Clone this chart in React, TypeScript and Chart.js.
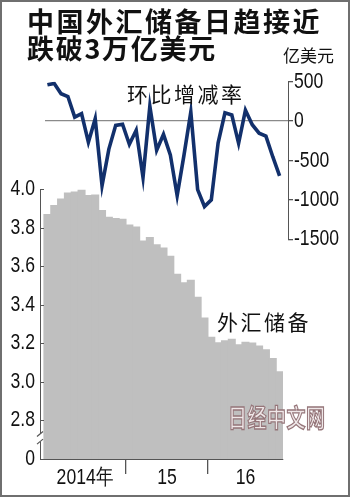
import React, { useEffect, useRef } from "react";
import { Chart, registerables } from "chart.js";
Chart.register(...registerables);

// ---- data ----
const months: string[] = [
  "2014-01", "2014-02", "2014-03", "2014-04", "2014-05", "2014-06", "2014-07", "2014-08", "2014-09", "2014-10", "2014-11", "2014-12",
  "2015-01", "2015-02", "2015-03", "2015-04", "2015-05", "2015-06", "2015-07", "2015-08", "2015-09", "2015-10", "2015-11", "2015-12",
  "2016-01", "2016-02", "2016-03", "2016-04", "2016-05", "2016-06", "2016-07", "2016-08", "2016-09", "2016-10", "2016-11",
];
// 外汇储备 (万亿美元)
const reserves: number[] = [
  3.867, 3.914, 3.948, 3.979, 3.984, 3.993, 3.966, 3.969, 3.888, 3.853, 3.847, 3.843,
  3.813, 3.802, 3.730, 3.748, 3.711, 3.694, 3.651, 3.557, 3.514, 3.526, 3.438, 3.330,
  3.231, 3.202, 3.213, 3.220, 3.192, 3.205, 3.201, 3.185, 3.166, 3.121, 3.052,
];
// 环比增减 (亿美元)
const momChange: number[] = [
  460, 478, 348, 312, 50, 95, -268, 30, -818, -355, -54, -40,
  -294, -116, -715, 188, -370, -168, -428, -946, -432, 116, -870, -1084,
  -1000, -275, 106, 78, -282, 138, -46, -154, -190, -452, -695,
];
const yearLabels: string[] = ["2014年", "15", "16"];
const leftTickValues: number[] = [2.6, 2.8, 3.0, 3.2, 3.4, 3.6, 3.8, 4.0];
const leftTickLabels: string[] = ["0", "2.8", "3.0", "3.2", "3.4", "3.6", "3.8", "4.0"];
const rightTickValues: number[] = [-1500, -1000, -500, 0, 500];

const NUM_FONT = "'Liberation Sans', Arial, sans-serif";
const CJK_FONT = "'Noto Sans CJK SC', 'Noto Sans CJK JP', sans-serif";
const NARROW = 0.8;

const W = 350;
const H = 497;

// condensed text: squeeze tick labels horizontally around their anchor
const narrowText = {
  id: "narrowText",
  beforeDraw(chart: any) {
    const ctx = chart.ctx;
    if (ctx.__origFillText) return;
    const orig = ctx.fillText;
    ctx.__origFillText = orig;
    ctx.fillText = function (text: string, x: number, y: number, mw?: number) {
      this.save();
      this.translate(x, y);
      this.scale(NARROW, 1);
      if (mw === undefined) orig.call(this, text, 0, 0);
      else orig.call(this, text, 0, 0, mw / NARROW);
      this.restore();
    };
  },
  afterDraw(chart: any) {
    const ctx = chart.ctx;
    if (ctx.__origFillText) {
      ctx.fillText = ctx.__origFillText;
      delete ctx.__origFillText;
    }
  },
};

export default function App() {
  const barRef = useRef<HTMLCanvasElement | null>(null);
  const lineRef = useRef<HTMLCanvasElement | null>(null);

  useEffect(() => {
    document.body.style.margin = "0";
    const n = months.length;
    const yearStarts: number[] = [];
    months.forEach((m, i) => {
      if (i === 0 || m.slice(0, 4) !== months[i - 1].slice(0, 4)) yearStarts.push(i);
    });
    const labelMap = new Map<number, string>();
    const xTicks: number[] = [];
    const boundarySet = new Set<number>();
    yearStarts.forEach((s, k) => {
      const e = k + 1 < yearStarts.length ? yearStarts[k + 1] - 1 : n - 1;
      const c = (s + e) / 2;
      labelMap.set(c, yearLabels[k] ?? "");
      xTicks.push(c);
      if (k > 0) {
        boundarySet.add(s - 0.5);
        xTicks.push(s - 0.5);
      }
    });
    xTicks.sort((a, b) => a - b);

    const barLeft = 40, barRight = 283;
    const unit = (barRight - 4 - barLeft) / n;
    const xMaxBar = n - 0.5;
    const xMinBar = xMaxBar - (barRight - barLeft) / unit;
    const lineLeft = 45, lineRight = 288;
    const xMinLine = xMinBar + (lineLeft - barLeft) / unit;
    const xMaxLine = xMinLine + (lineRight - lineLeft) / unit;

    const axisDecor = {
      id: "axisDecor",
      afterDraw(chart: any) {
        const { ctx, chartArea, scales } = chart;
        const y = scales.y;
        ctx.save();
        ctx.strokeStyle = "#555";
        ctx.lineWidth = 1;
        leftTickValues.forEach((v) => {
          const py = Math.round(y.getPixelForValue(v)) + 0.5;
          ctx.beginPath();
          ctx.moveTo(chartArea.left, py);
          ctx.lineTo(chartArea.left + 4, py);
          ctx.stroke();
        });
        const p1 = y.getPixelForValue(2.73);
        const p2 = y.getPixelForValue(2.69);
        ctx.fillStyle = "#ffffff";
        ctx.fillRect(chartArea.left - 2, p1, 4, p2 - p1);
        ctx.lineWidth = 1.2;
        [p1, p2].forEach((p) => {
          ctx.beginPath();
          ctx.moveTo(chartArea.left - 3, p + 2.5);
          ctx.lineTo(chartArea.left + 3, p - 2.5);
          ctx.stroke();
        });
        ctx.restore();
      },
    };

    const barChart = new Chart(barRef.current as HTMLCanvasElement, {
      type: "bar",
      data: {
        datasets: [
          {
            label: "外汇储备",
            data: reserves.map((v, i) => ({ x: i, y: v })),
            backgroundColor: "#bfbfbf",
            borderWidth: 0,
            categoryPercentage: 1,
            barPercentage: 1,
            inflateAmount: 0.6,
          },
        ],
      },
      options: {
        responsive: false,
        animation: false,
        events: [],
        layout: { padding: { top: 189, right: W - barRight, bottom: 0, left: 0 } },
        plugins: { legend: { display: false }, tooltip: { enabled: false }, title: { display: false } },
        scales: {
          x: {
            type: "linear",
            offset: false,
            min: xMinBar,
            max: xMaxBar,
            afterBuildTicks: (s: any) => {
              s.ticks = xTicks.map((v) => ({ value: v }));
            },
            afterFit: (s: any) => {
              s.height = H - 459;
            },
            ticks: {
              autoSkip: false,
              maxRotation: 0,
              padding: -9,
              color: "#111",
              font: { family: NUM_FONT, size: 22 },
              callback: (v: any) => labelMap.get(Number(v)) ?? "",
            },
            grid: {
              offset: false,
              drawOnChartArea: false,
              tickLength: 15,
              lineWidth: 1.3,
              tickColor: (ctx: any) => (ctx.tick && boundarySet.has(ctx.tick.value) ? "#555" : "rgba(0,0,0,0)"),
            },
            border: { display: true, color: "#555", width: 1 },
          },
          y: {
            position: "left",
            min: 2.6,
            max: 4.0,
            afterBuildTicks: (s: any) => {
              s.ticks = leftTickValues.map((v) => ({ value: v }));
            },
            afterFit: (s: any) => {
              s.width = barLeft;
            },
            ticks: {
              padding: 5,
              color: "#111",
              font: { family: NUM_FONT, size: 22 },
              callback: (_v: any, i: number) => leftTickLabels[i],
            },
            grid: { display: false, drawTicks: false },
            border: { display: true, color: "#555", width: 1 },
          },
        },
      },
      plugins: [narrowText, axisDecor],
    } as any);

    const lineChart = new Chart(lineRef.current as HTMLCanvasElement, {
      type: "line",
      data: {
        datasets: [
          {
            label: "环比增减率",
            data: momChange.map((v, i) => ({ x: i, y: v })),
            borderColor: "#12306c",
            borderWidth: 3.6,
            pointRadius: 0,
            tension: 0,
            fill: false,
            borderJoinStyle: "miter",
          },
        ],
      },
      options: {
        responsive: false,
        animation: false,
        events: [],
        layout: { padding: { top: 81.7, right: 0, bottom: H - 239.3, left: lineLeft } },
        plugins: { legend: { display: false }, tooltip: { enabled: false }, title: { display: false } },
        scales: {
          x: { type: "linear", offset: false, display: false, min: xMinLine, max: xMaxLine },
          y: {
            position: "right",
            min: -1500,
            max: 500,
            afterBuildTicks: (s: any) => {
              s.ticks = rightTickValues.map((v) => ({ value: v }));
            },
            afterFit: (s: any) => {
              s.width = W - lineRight;
            },
            ticks: {
              padding: 1,
              color: "#111",
              font: { family: NUM_FONT, size: 22 },
              callback: (v: any) => String(v),
            },
            grid: {
              drawOnChartArea: true,
              tickLength: 5,
              lineWidth: 1.3,
              color: (ctx: any) => (ctx.tick && ctx.tick.value === 0 ? "#8a8a8a" : "rgba(0,0,0,0)"),
              tickColor: "#555",
            },
            border: { display: true, color: "#555", width: 1 },
          },
        },
      },
      plugins: [narrowText],
    } as any);

    return () => {
      barChart.destroy();
      lineChart.destroy();
    };
  }, []);

  const abs: React.CSSProperties = { position: "absolute", whiteSpace: "nowrap", margin: 0 };

  return (
    <div style={{ position: "absolute", left: 0, top: 0, width: W, height: H, background: "#fff", overflow: "hidden" }}>
      <canvas ref={barRef} width={W} height={H} style={{ position: "absolute", left: 0, top: 0, width: W, height: H }} />
      <canvas ref={lineRef} width={W} height={H} style={{ position: "absolute", left: 0, top: 0, width: W, height: H }} />
      <div style={{ ...abs, left: 27, top: 7, fontFamily: CJK_FONT, fontWeight: 700, fontSize: 27, lineHeight: "27px", letterSpacing: 2.5, color: "#111" }}>
        中国外汇储备日趋接近
      </div>
      <div style={{ ...abs, left: 27, top: 34, fontFamily: CJK_FONT, fontWeight: 700, fontSize: 27, lineHeight: "27px", letterSpacing: 1.7, color: "#111" }}>
        跌破3万亿美元
      </div>
      <div style={{ ...abs, left: 283, top: 46, fontFamily: CJK_FONT, fontSize: 17, lineHeight: "17px", color: "#111" }}>亿美元</div>
      <div style={{ ...abs, left: 127, top: 83, fontFamily: CJK_FONT, fontSize: 21, lineHeight: "21px", letterSpacing: 2.5, color: "#111" }}>
        环比增减率
      </div>
      <div style={{ ...abs, left: 217, top: 311, fontFamily: CJK_FONT, fontSize: 21, lineHeight: "21px", letterSpacing: 2.5, color: "#111" }}>
        外汇储备
      </div>
      <div
        style={{
          ...abs,
          left: 228,
          top: 404,
          fontFamily: CJK_FONT,
          fontWeight: 700,
          fontSize: 19,
          lineHeight: "19px",
          letterSpacing: 0.5,
          color: "#efe7e8",
          WebkitTextStroke: "1px #957579",
          transform: "scaleY(1.3)",
          transformOrigin: "0 0",
        }}
      >
        日经中文网
      </div>
      <div style={{ position: "absolute", left: 0, top: 0, width: W, height: H, boxSizing: "border-box", border: "2px solid #6f6f6f", pointerEvents: "none" }} />
    </div>
  );
}
